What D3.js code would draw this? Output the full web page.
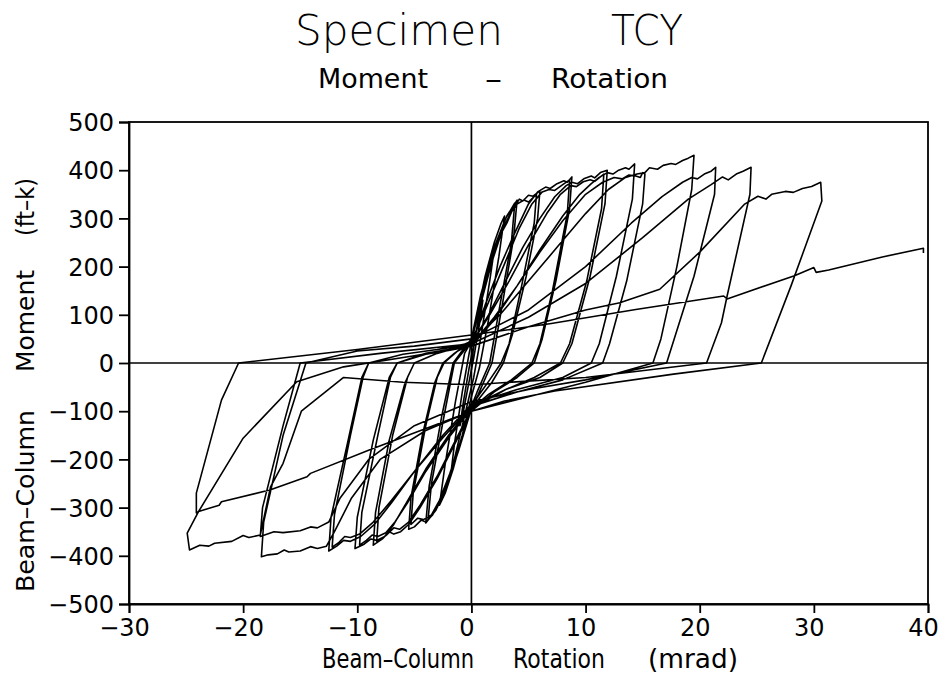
<!DOCTYPE html>
<html><head><meta charset="utf-8">
<script src="https://cdn.jsdelivr.net/npm/d3@7/dist/d3.min.js"></script>
<style>body{margin:0;background:#fff}svg{display:block}text{font-family:"DejaVu Sans",sans-serif;fill:#000}</style>
</head><body><svg id="c" width="945" height="677"></svg>
<script>
const titleMain = ["Specimen", "TCY"];
const titleSub = ["Moment", "\u2013", "Rotation"];
const xTitle = ["Beam\u2013Column", "Rotation", "(mrad)"];
const yTitle = ["Beam\u2013Column", "Moment", "(ft\u2013k)"];
const xTicks = [-30, -20, -10, 0, 10, 20, 30, 40];
const yTicks = [500, 400, 300, 200, 100, 0, -100, -200, -300, -400, -500];

// rotation (mrad), moment (ft-k) loading path
const elasticPath = [[0,0],[0.3,50],[0.7,100],[1.0,130],[0.7,80],[0.2,10],[-0.3,-50],[-0.7,-100],[-1.0,-130],[-0.7,-80],[-0.2,-10],
 [0.3,50],[0.9,130],[1.5,190],[2.0,235],[1.6,170],[0.8,50],[0.2,-30],[-0.5,-100],[-1.2,-170],[-1.8,-230],[-1.5,-170],[-0.8,-60],[-0.2,20],
 [0.4,90],[1.2,180],[2.0,250],[2.6,290],[2.9,305],[2.4,220],[1.5,90],[0.7,-10],[0,-70],[-0.8,-150],[-1.6,-220],[-2.3,-270],[-2.8,-295],[-2.3,-210],[-1.4,-80],[-0.6,20],
 [0,45],[1,150],[2,240],[3,300],[3.8,332],[3.5,250],[2.5,120],[1.6,0],[0.5,-60],[0,-90],[-1,-170],[-2,-240],[-3,-300],[-3.8,-325],[-3.5,-250],[-2.4,-110],[-1.5,0],[-0.5,30],
 [0,50],[1.1,160],[2.1,245],[3.1,305],[4.0,338],[3.7,260],[2.7,120],[1.8,0],[0.6,-65],[0,-95],[-1.1,-180],[-2.1,-250],[-3.1,-305],[-4.0,-332],[-3.7,-255],[-2.6,-110],[-1.6,0],[-0.6,32]];
const cycles6 = [[0,50],[0.8,140],[1.6,207],[2.4,260],[3.1,290],[3.6,318],[4.2,340],[4.5,336],[5.0,348],[5.4,346],[6.0,357],
 [5.8,300],[4.8,180],[3.6,60],[2.8,0],[1.8,-40],[0.8,-70],[0,-95],[-0.8,-150],[-1.7,-220],[-2.6,-280],[-3.4,-315],[-4.0,-330],[-4.4,-326],[-5.0,-340],[-5.5,-345],
 [-5.3,-280],[-4.3,-150],[-3.2,-40],[-2.5,0],[-1.5,20],[-0.6,35],
 [0,45],[0.9,130],[1.8,210],[2.7,275],[3.4,310],[4.0,330],[4.6,338],[5.0,334],[5.7,350],
 [5.5,290],[4.4,160],[3.3,40],[2.6,0],[1.6,-35],[0.7,-65],[0,-90],[-0.9,-160],[-1.9,-230],[-2.8,-285],[-3.5,-315],[-4.2,-325],[-4.7,-322],[-5.3,-335],
 [-5.1,-270],[-4.0,-130],[-3.0,-30],[-2.4,0],[-1.2,25]];
const cycles9 = [[0,40],[1.2,120],[2.5,200],[3.8,270],[5.0,330],[5.8,355],[6.5,365],[6.9,362],[7.5,372],[8.1,378],[8.4,375],[8.8,386],
 [8.6,320],[7.4,170],[6.2,50],[5.5,0],[4,-30],[2,-60],[0,-100],[-1.5,-170],[-3,-240],[-4.5,-300],[-5.5,-335],[-6.2,-350],[-6.8,-355],[-7.2,-350],[-7.8,-365],[-8.6,-378],
 [-8.4,-310],[-7.2,-160],[-5.8,-40],[-5,0],[-3,20],[-1.5,30],
 [0,45],[1.3,115],[2.8,200],[4.2,280],[5.3,330],[6.2,355],[6.8,360],[7.3,358],[8.0,370],[8.6,380],
 [8.4,310],[7.1,150],[6.0,40],[5.3,0],[3.5,-35],[1.5,-65],[0,-95],[-1.5,-165],[-3,-235],[-4.5,-295],[-5.5,-330],[-6.3,-345],[-6.8,-342],[-7.5,-358],[-8.3,-370],
 [-8.1,-300],[-6.9,-150],[-5.6,-30],[-5,0],[-3,20],[-1.5,30]];
const cycles12 = [[0,40],[1.5,100],[3,170],[4.5,240],[6,300],[7.3,345],[8.3,368],[8.8,375],[9.3,372],[9.9,383],[10.5,388],[10.8,384],[11.3,395],[11.9,400],
 [11.7,330],[10.4,180],[8.8,40],[8.0,0],[6,-30],[3,-55],[0,-90],[-2,-150],[-4,-220],[-5.7,-290],[-6.8,-335],[-7.6,-360],[-8.3,-368],[-8.8,-365],[-9.4,-376],[-10.2,-385],
 [-10.0,-320],[-8.6,-160],[-7.2,-30],[-6.5,0],[-4,20],[-2,28],
 [0,40],[1.6,100],[3.3,170],[5,245],[6.6,310],[7.8,350],[8.7,368],[9.2,366],[9.8,376],[10.4,380],[10.8,377],[11.6,392],
 [11.4,320],[10.1,170],[8.6,40],[7.8,0],[5.5,-30],[3,-55],[0,-95],[-2,-155],[-4,-225],[-5.6,-290],[-6.7,-330],[-7.5,-352],[-8.2,-360],[-8.7,-357],[-9.2,-368],[-9.8,-378],
 [-9.6,-310],[-8.2,-150],[-7.1,-30],[-6.5,0],[-4,18],[-2,26]];
const cycles15 = [[0,35],[2,90],[4,160],[6,235],[8,305],[9.5,350],[10.5,372],[11.2,385],[11.9,395],[12.4,392],[12.9,400],[13.5,405],[13.8,402],[14.3,413],
 [14.1,340],[12.7,180],[11.2,40],[10.5,0],[8,-30],[4,-55],[0,-85],[-2.5,-150],[-5,-225],[-7,-290],[-8.5,-335],[-9.7,-360],[-10.6,-370],[-11.2,-368],[-11.8,-380],[-12.5,-390],
 [-12.3,-320],[-10.8,-160],[-9.6,-30],[-9,0],[-6,18],[-3,28],
 [0,38],[2,95],[4,160],[6,230],[8,295],[10,350],[11.5,375],[12.5,385],[13.2,382],[13.8,390],[14.4,388],[14.8,385],[15.0,395],[15.2,392],
 [15.0,330],[13.6,170],[12.1,40],[11.5,0],[8,-35],[4,-60],[0,-90],[-2.5,-155],[-5,-225],[-7,-285],[-8.6,-330],[-9.8,-355],[-10.6,-362],[-11.1,-360],[-11.6,-372],[-12.2,-382],
 [-12.0,-315],[-10.6,-150],[-9.5,-30],[-9,0],[-6,18],[-3,28]];
const cycles20 = [[0,42],[2.5,100],[5,170],[7.5,240],[10,310],[12,360],[13.5,385],[14.5,392],[15.2,395],[15.6,405],[16.3,402],[16.8,410],[17.5,414],[17.9,412],[18.5,420],[19.0,425],[19.5,431],
 [19.3,360],[18.0,200],[16.6,50],[15.9,0],[10,-40],[5,-70],[0,-100],[-4,-140],[-8,-200],[-10.5,-280],[-12,-350],[-12.7,-380],[-13.5,-385],[-14.1,-381],[-15,-390],[-16,-392],[-16.4,-388],[-17,-396],[-17.8,-398],[-18.4,-402],
 [-18.2,-330],[-16.5,-150],[-14.5,0],[-10,25],[-5,35],[0,50],
 [5,110],[10,200],[14,290],[16.7,345],[18.5,375],[19.3,385],[19.8,382],[20.4,392],[21.0,398],[21.4,406],
 [21.3,350],[19.5,180],[17.1,0],[10,-35],[5,-55],[0,-80],[-5,-130],[-9,-200],[-11.5,-280],[-12.5,-330],[-13.5,-342],[-14.1,-340],[-15,-348],[-16.5,-352],[-17.3,-350],[-18.5,-360],
 [-18.3,-300],[-16.5,-130],[-15,0],[-8,20],[0,40]];
const cycles25 = [[5,95],[10,165],[15,260],[19,340],[21,370],[22,386],[22.5,380],[23.2,392],[23.8,398],[24.5,406],
 [24.4,350],[22.4,139],[21.9,83],[20.6,0],[10,-30],[0,-45],[-6,-40],[-11.2,-30],[-14.9,-100],[-16.5,-208],[-17.6,-257],[-18.5,-357],[-19.5,-362],[-20,-358],[-21,-370],[-22.5,-374],[-23,-380],[-23.8,-378],[-24.7,-388],
 [-24.9,-353],[-23.9,-308],[-20,-156],[-15.3,-39],[-11.2,-8],[-5,15],[0,35],
 [5,75],[10,110],[13,125],[16.5,153],[20,230],[23.9,329],[25.1,346],[25.8,340],[26.3,350],[27.5,356],[28.2,354],[29,362],[29.8,366],[30.6,375],
 [30.7,336],[28,160],[25.4,0],[17.7,-23],[7.3,-58],[2.9,-79],[0,-100],[-8.9,-180],[-14.1,-229],[-14.4,-236],[-17.6,-263],[-21.9,-288],[-22.1,-295],[-23.9,-308],[-24.1,-311]];
const finalPath = [[-24.1,-270],[-21.9,-77],[-20.4,0],[-10,28],[0,58],[7,82],[14.4,111],[22.1,139],[22.4,133],[28.3,181],[30,198],[30.2,188],[31.3,193],[36,220],[39.6,238],[39.6,228]];

const pathData = [].concat(elasticPath, cycles6, cycles9, cycles12, cycles15, cycles20, cycles25, finalPath);

const svg = d3.select("#c");
const L = 129, R = 928, T = 122, B = 604;
const x = d3.scaleLinear().domain([-30, 40]).range([L, R]);
const y = d3.scaleLinear().domain([-500, 500]).range([B, T]);

svg.append("rect").attr("x", L).attr("y", T).attr("width", R - L).attr("height", B - T)
  .attr("fill", "none").attr("stroke", "#000").attr("stroke-width", 1.8);

svg.append("line").attr("x1", L).attr("x2", R).attr("y1", y(0)).attr("y2", y(0)).attr("stroke", "#000").attr("stroke-width", 1.7);
svg.append("line").attr("x1", x(0)).attr("x2", x(0)).attr("y1", T).attr("y2", B).attr("stroke", "#000").attr("stroke-width", 1.7);

const fmt = d => d < 0 ? "\u2212" + Math.abs(d) : String(d);
const yAxis = svg.append("g").attr("transform", `translate(${L},0)`)
  .call(d3.axisLeft(y).tickValues(yTicks).tickSize(10).tickPadding(6).tickFormat(fmt));
const xAxis = svg.append("g").attr("transform", `translate(0,${B})`)
  .call(d3.axisBottom(x).tickValues(xTicks).tickSize(9).tickPadding(6).tickFormat(fmt));
[yAxis, xAxis].forEach(g => {
  g.select(".domain").attr("stroke", "#000").attr("stroke-width", 1.8);
  g.selectAll(".tick line").attr("stroke", "#000").attr("stroke-width", 1.8);
  g.selectAll("text").style("font-family", '"DejaVu Sans", sans-serif').style("font-size", "24px").attr("fill", "#000");
});
yAxis.selectAll("text").attr("dy", "0.36em").attr("x", -15);
xAxis.selectAll("text").attr("dy", "0.72em").attr("dx", -5);

svg.append("path").datum(pathData)
  .attr("fill", "none").attr("stroke", "#000").attr("stroke-width", 1.6).attr("stroke-linejoin", "round")
  .attr("d", d3.line().x(d => x(d[0])).y(d => y(d[1])));

function txt(s, px, py, size, len, weight) {
  const t = svg.append("text").attr("x", px).attr("y", py).style("font-size", size + "px").text(s);
  if (len) t.attr("textLength", len).attr("lengthAdjust", "spacingAndGlyphs");
  if (weight) t.style("font-weight", weight);
  return t;
}
txt(titleMain[0], 295, 45, 42, 208, 300);
txt(titleMain[1], 611, 45, 42, 72, 300);
txt(titleSub[0], 318, 88, 27, 110);
txt(titleSub[1], 485, 88, 27, 17);
txt(titleSub[2], 551, 88, 27, 117);
txt(xTitle[0], 322, 668, 26, 152);
txt(xTitle[1], 513, 668, 26, 92);
txt(xTitle[2], 648, 668, 26, 90);

const yt = svg.append("g").attr("transform", "translate(34,0) rotate(-90)");
function ytxt(s, y0, y1) {
  yt.append("text").attr("x", -y0).attr("y", 0).style("font-size", "25px")
    .attr("textLength", y0 - y1).attr("lengthAdjust", "spacingAndGlyphs").text(s);
}
ytxt(yTitle[0], 592, 410);
ytxt(yTitle[1], 372, 270);
ytxt(yTitle[2], 236, 178);
</script></body></html>
